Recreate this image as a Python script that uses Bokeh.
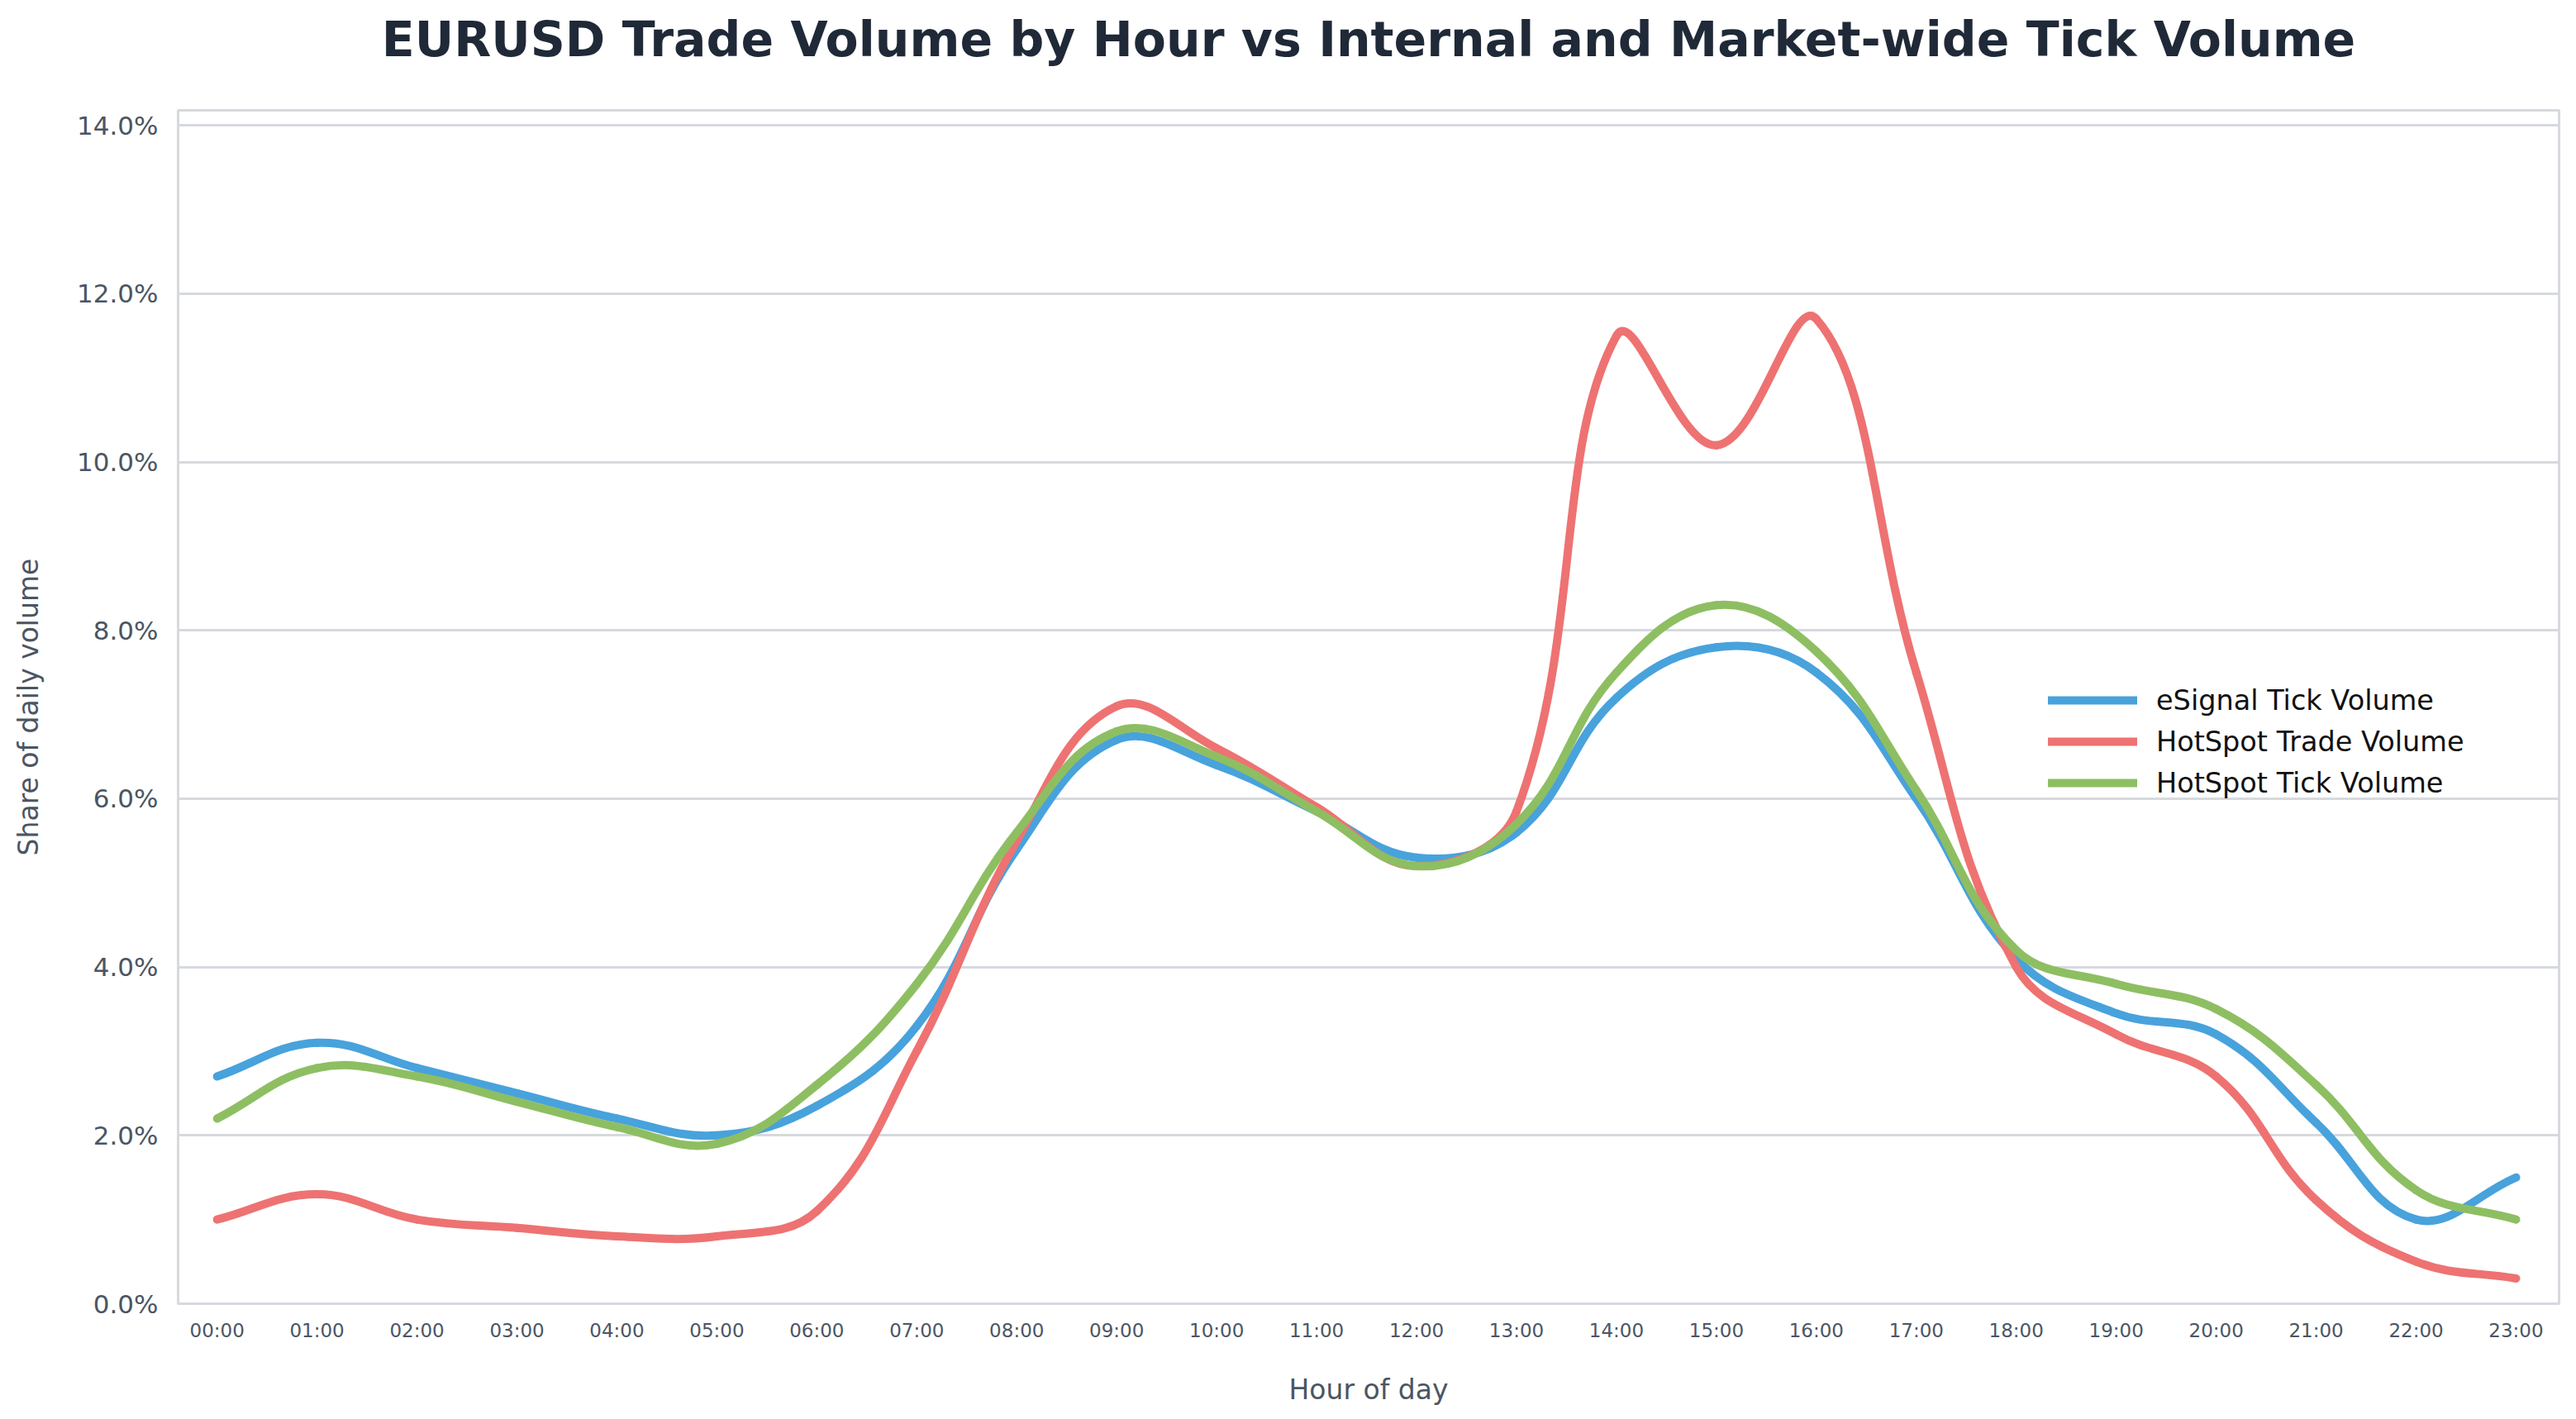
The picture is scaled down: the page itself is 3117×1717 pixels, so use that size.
import math

from bokeh.embed import file_html
from bokeh.models import ColumnDataSource, FixedTicker, PrintfTickFormatter, Range1d, Title
from bokeh.plotting import figure
from bokeh.resources import INLINE

# hour labels for the x axis
HOURS = ["%02d:00" % h for h in range(24)]

# share of daily volume in percent
ESIGNAL_TICK = [2.7, 3.1, 2.8, 2.5, 2.2, 2.0, 2.35, 3.3, 5.4, 6.7, 6.4, 5.85,
                5.3, 5.6, 7.2, 7.8, 7.5, 6.0, 4.1, 3.45, 3.2, 2.15, 1.0, 1.5]
HOTSPOT_TRADE = [1.0, 1.3, 1.0, 0.9, 0.8, 0.8, 1.1, 3.0, 5.5, 7.1, 6.6, 5.9,
                 5.2, 5.85, 11.5, 10.2, 11.7, 7.5, 4.0, 3.2, 2.7, 1.23, 0.5, 0.3]
HOTSPOT_TICK = [2.2, 2.8, 2.7, 2.4, 2.1, 1.9, 2.6, 3.8, 5.6, 6.8, 6.5, 5.85,
                5.2, 5.7, 7.5, 8.3, 7.75, 6.1, 4.2, 3.8, 3.5, 2.6, 1.35, 1.0]

SERIES = [
    ("eSignal Tick Volume", ESIGNAL_TICK, "#48a2dc"),
    ("HotSpot Trade Volume", HOTSPOT_TRADE, "#ee7272"),
    ("HotSpot Tick Volume", HOTSPOT_TICK, "#8ebe62"),
]

FONT = "DejaVu Sans"
GRID = "#d6d9de"
MUTED = "#4b5563"
TENSION = 0.4


def smooth_segments(values):
    """bezier segments through the hourly points, tangents weighted by segment length"""
    n = len(values)
    pts = [(float(i), float(v)) for i, v in enumerate(values)]
    before, after = [], []
    for i in range(n):
        prev = pts[max(i - 1, 0)]
        cur = pts[i]
        nxt = pts[min(i + 1, n - 1)]
        d01 = math.hypot(cur[0] - prev[0], cur[1] - prev[1])
        d12 = math.hypot(nxt[0] - cur[0], nxt[1] - cur[1])
        tot = d01 + d12
        s01 = d01 / tot if tot else 0
        s12 = d12 / tot if tot else 0
        dx, dy = nxt[0] - prev[0], nxt[1] - prev[1]
        before.append((cur[0] - TENSION * s01 * dx, cur[1] - TENSION * s01 * dy))
        after.append((cur[0] + TENSION * s12 * dx, cur[1] + TENSION * s12 * dy))
    seg = {k: [] for k in ["x0", "y0", "x1", "y1", "cx0", "cy0", "cx1", "cy1"]}
    for i in range(n - 1):
        seg["x0"].append(pts[i][0])
        seg["y0"].append(pts[i][1])
        seg["x1"].append(pts[i + 1][0])
        seg["y1"].append(pts[i + 1][1])
        seg["cx0"].append(after[i][0])
        seg["cy0"].append(after[i][1])
        seg["cx1"].append(before[i + 1][0])
        seg["cy1"].append(before[i + 1][1])
    return ColumnDataSource(seg)


p = figure(
    width=3100,
    height=1707,
    x_range=Range1d(-0.39, 23.43),
    y_range=Range1d(0, 14.18),
    output_backend="svg",
    toolbar_location=None,
    min_border_left=215,
    min_border_right=4,
    min_border_top=133,
    min_border_bottom=130,
    background_fill_color="white",
    border_fill_color="white",
)

# empty spacer panel between the frame and the title
p.add_layout(Title(text=" ", text_font_size="36px", standoff=4), "above")

p.title.text = "EURUSD Trade Volume by Hour vs Internal and Market-wide Tick Volume"
p.title.align = "center"
p.title.text_font = FONT
p.title.text_font_size = "58.5px"
p.title.text_font_style = "bold"
p.title.text_color = "#1f2937"
p.title.standoff = 10

p.outline_line_color = GRID
p.outline_line_width = 3

# axes
p.xaxis.ticker = FixedTicker(ticks=list(range(24)))
p.xaxis.major_label_overrides = {i: h for i, h in enumerate(HOURS)}
p.yaxis.ticker = FixedTicker(ticks=[0, 2, 4, 6, 8, 10, 12, 14])
p.yaxis.formatter = PrintfTickFormatter(format="%.1f%%")

p.xaxis.axis_label = "Hour of day"
p.yaxis.axis_label = "Share of daily volume"

for ax in (p.xaxis, p.yaxis):
    ax.axis_line_color = GRID
    ax.axis_line_width = 3
    ax.major_tick_line_color = None
    ax.minor_tick_line_color = None
    ax.major_tick_out = 0
    ax.major_label_text_font = FONT
    ax.major_label_text_color = MUTED
    ax.axis_label_text_font = FONT
    ax.axis_label_text_font_style = "normal"
    ax.axis_label_text_font_size = "33px"
    ax.axis_label_text_color = MUTED

p.xaxis.major_label_text_font_size = "23px"
p.xaxis.major_label_standoff = 19
p.xaxis.axis_label_standoff = 36
p.yaxis.major_label_text_font_size = "31px"
p.yaxis.major_label_standoff = 24
p.yaxis.axis_label_standoff = 36

p.xgrid.grid_line_color = None
p.ygrid.grid_line_color = GRID
p.ygrid.grid_line_width = 3

# smoothed series
for name, values, color in SERIES:
    p.bezier(
        x0="x0", y0="y0", x1="x1", y1="y1",
        cx0="cx0", cy0="cy0", cx1="cx1", cy1="cy1",
        source=smooth_segments(values),
        line_color=color,
        line_width=10,
        line_cap="round",
        legend_label=name,
    )

p.legend.location = (2263, 610)
p.legend.padding = 0
p.legend.margin = 0
p.legend.spacing = 10
p.legend.glyph_width = 108
p.legend.glyph_height = 40
p.legend.label_height = 40
p.legend.label_standoff = 23
p.legend.label_text_font = FONT
p.legend.label_text_font_size = "33.5px"
p.legend.label_text_color = "#111111"
p.legend.background_fill_alpha = 0
p.legend.border_line_alpha = 0

open("out.html", "w").write(file_html(p, INLINE))
